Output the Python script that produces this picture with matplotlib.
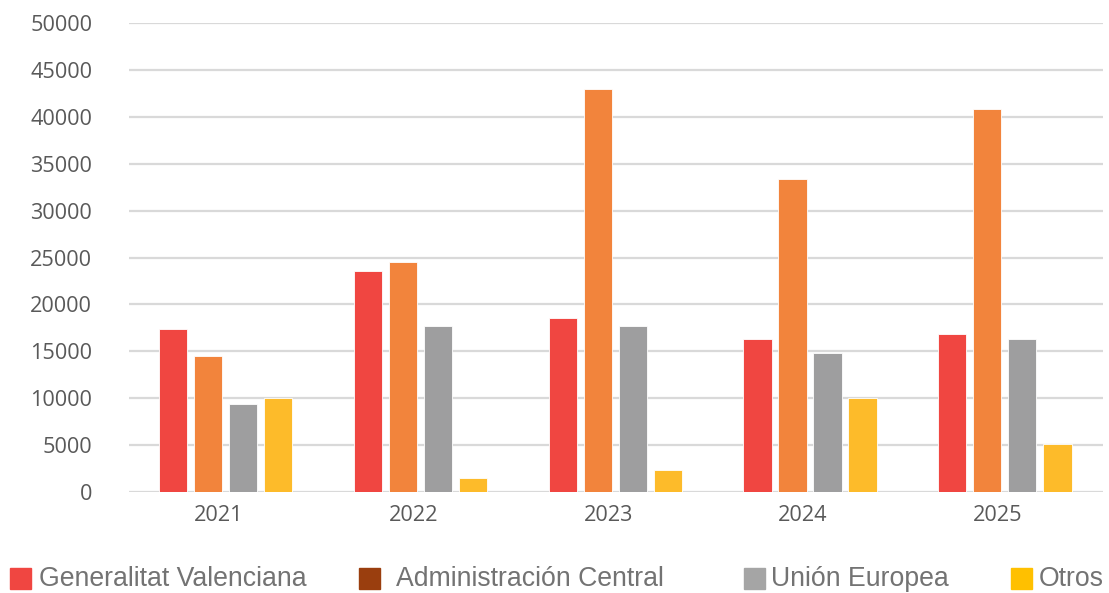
import matplotlib
matplotlib.use("Agg")
import matplotlib.pyplot as plt
from matplotlib.patches import Rectangle
import numpy as np

years = ["2021", "2022", "2023", "2024", "2025"]
generalitat = [17400, 23600, 18500, 16300, 16800]
administracion = [14500, 24500, 43000, 33400, 40800]
union_europea = [9400, 17700, 17700, 14850, 16300]
otros = [10000, 1450, 2300, 10000, 5100]

series_names = ["Generalitat Valenciana", "Administración Central", "Unión Europea", "Otros"]
bar_colors = ["#F04641", "#F2843C", "#9E9E9F", "#FDBB2A"]
legend_colors = ["#F04641", "#9A3E0E", "#A5A5A5", "#FFC000"]
yticks = [0, 5000, 10000, 15000, 20000, 25000, 30000, 35000, 40000, 45000, 50000]

W, H = 1109, 593
fig = plt.figure(figsize=(W / 100, H / 100), dpi=100)
ax = fig.add_axes([129 / W, 1 - 492 / H, (1103 - 129) / W, (492 - 23) / H])

x = np.arange(len(years))
pitch = 0.18
width = 0.145
shift = 0.036
data = [generalitat, administracion, union_europea, otros]
for i, (vals, col) in enumerate(zip(data, bar_colors)):
    ax.bar(x + shift + (i - 1.5) * pitch, vals, width=width, color=col,
           edgecolor="#ffffff", linewidth=0.6, zorder=3)

ax.set_xlim(-0.46, 4.54)
ax.set_ylim(0, 50000)
ax.set_yticks(yticks)
ax.set_yticklabels([str(v) for v in yticks])
ax.set_xticks(x)
ax.set_xticklabels(years)
ax.yaxis.grid(True, color="#D9D9D9", linewidth=1.6, zorder=0)
ax.set_axisbelow(True)
for s in ax.spines.values():
    s.set_visible(False)
ax.tick_params(axis="both", length=0, labelsize=15.6, labelcolor="#595959")
ax.tick_params(axis="y", pad=26.5)
ax.tick_params(axis="x", pad=9.5)
for lab in ax.get_xticklabels() + ax.get_yticklabels():
    lab.set_fontfamily("Open Sans")

# legend drawn manually in figure pixel positions
sq_x = [10, 359, 744, 1011]
txt_x = [39, 396, 771, 1039]
for name, col, sx, tx in zip(series_names, legend_colors, sq_x, txt_x):
    fig.patches.append(Rectangle((sx / W, 1 - 589 / H), 21 / W, 21 / H,
                                 transform=fig.transFigure, color=col))
    fig.text(tx / W, 1 - 579 / H, name, fontsize=19.2, color="#737373",
             family="Liberation Sans", va="center", ha="left")

fig.savefig("out.png", dpi=100)
